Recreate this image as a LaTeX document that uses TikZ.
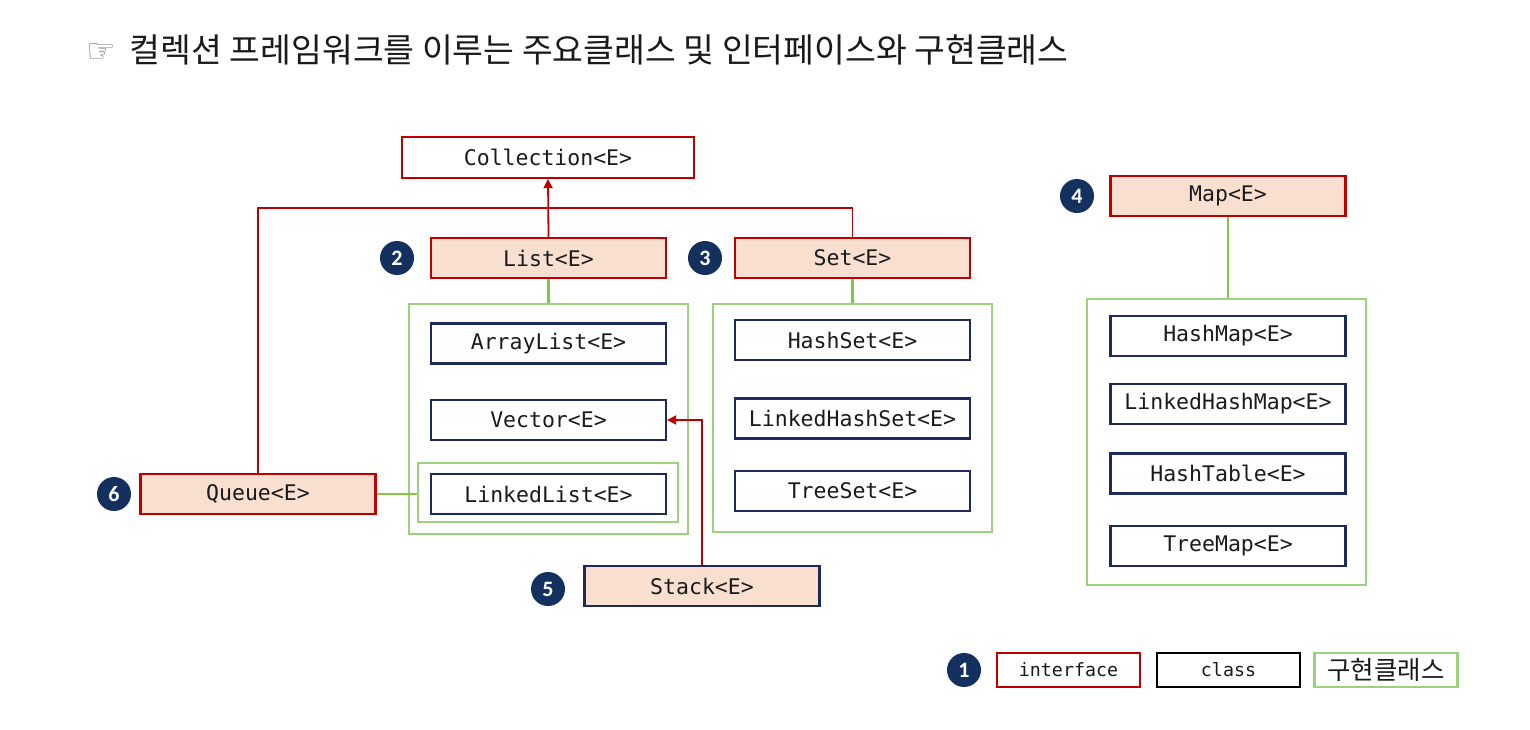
\documentclass[tikz,border=0pt]{standalone}
\usepackage{fontspec}
\setmonofont{DejaVu Sans Mono}
\newfontfamily\krfont{Noto Sans CJK KR}
\newfontfamily\dvfont{DejaVu Sans}
\newfontfamily\badgefont{Carlito}
\usetikzlibrary{arrows.meta}
\definecolor{rd}{HTML}{C00000}
\definecolor{nv}{HTML}{1F2A5C}
\definecolor{gr}{HTML}{9CD27C}
\definecolor{grl}{HTML}{86C540}
\definecolor{pe}{HTML}{F9DFD0}
\definecolor{bdg}{HTML}{14305E}
\definecolor{txt}{HTML}{1A1A1A}
\tikzset{
  box/.style={draw, line width=2.2pt, minimum width=235pt, minimum height=40pt, inner sep=0pt,
    font=\fontsize{21.5}{24}\selectfont\ttfamily, text=txt},
  iface/.style={box, draw=rd, fill=pe},
  cls/.style={box, draw=nv, fill=white},
  grp/.style={draw=gr, line width=2.2pt, inner sep=0pt},
  badge/.style={circle, fill=bdg, text=white, minimum size=34pt, inner sep=0pt,
    font=\fontsize{22}{22}\selectfont\badgefont\bfseries},
  rl/.style={draw=rd, line width=1.8pt},
  gl/.style={draw=grl, line width=2.2pt},
  tip/.style={-{Triangle[length=9pt,width=9pt]}},
  legbox/.style={draw, line width=2.2pt, minimum width=143pt, minimum height=34pt, inner sep=0pt, fill=white, text=txt}
}
\begin{document}
\begin{tikzpicture}[x=1pt,y=-1pt]
\fill[white] (0,0) rectangle (1530,729);
\useasboundingbox (0,0) rectangle (1530,729);

% title
\node[anchor=west, inner sep=0pt, text=txt] (title) at (86,50)
  {{\dvfont\fontsize{33}{36}\selectfont\color{gray}☞}\hspace{14pt}{\krfont\fontsize{33.5}{38}\selectfont 컬렉션 프레임워크를 이루는 주요클래스 및 인터페이스와 구현클래스}};

% group boxes
\node[grp, minimum width=279pt, minimum height=230pt] (lg) at (548.5,419) {};
\node[grp, minimum width=279pt, minimum height=228pt] (sg) at (852.5,418) {};
\node[grp, minimum width=279pt, minimum height=286pt] (mg) at (1226.5,442) {};
\node[grp, minimum width=260pt, minimum height=59pt] (llg) at (548,492.5) {};

% interfaces
\node[box, draw=rd, fill=white, minimum width=292pt, minimum height=41pt] (coll) at (548,157.5) {Collection<E>};
\node[iface] (lst) at (548.5,258) {List<E>};
\node[iface] (set) at (852.5,258) {Set<E>};
\node[iface] (map) at (1228,196) {Map<E>};
\node[iface] (que) at (258,494) {Queue<E>};
\node[box, draw=nv, fill=pe] (stk) at (702,586) {Stack<E>};

% classes
\node[cls] (al) at (548.5,343.5) {ArrayList<E>};
\node[cls] (vec) at (548.5,420) {Vector<E>};
\node[cls] (ll) at (548.5,494) {LinkedList<E>};
\node[cls] (hs) at (852.5,340) {HashSet<E>};
\node[cls] (lhs) at (852.5,418.5) {LinkedHashSet<E>};
\node[cls] (ts) at (852.5,491) {TreeSet<E>};
\node[cls] (hm) at (1228,336) {HashMap<E>};
\node[cls] (lhm) at (1228,404) {LinkedHashMap<E>};
\node[cls] (ht) at (1228,473.5) {HashTable<E>};
\node[cls] (tm) at (1228,546) {TreeMap<E>};

% connectors
\coordinate (j) at (548,208);
\draw[rl, tip] (lst.north) -- (coll.south);
\draw[rl] (que.north) |- (j) -| (set.north);
\draw[rl, tip] (stk.north) |- (vec.east);
\draw[gl] (lst.south) -- (lg.north);
\draw[gl] (set.south) -- (sg.north);
\draw[gl] (map.south) -- (map.south |- mg.north);
\draw[gl] (que.east) -- (que.east -| llg.west);

% badges
\node[badge] (b2) at (397,258) {2};
\node[badge] (b3) at (705,258) {3};
\node[badge] (b4) at (1077,196) {4};
\node[badge] (b6) at (114,494) {6};
\node[badge] (b5) at (548,589) {5};
\node[badge] (b1) at (964,670) {1};

% legend
\node[legbox, draw=rd, font=\fontsize{18.3}{20}\selectfont\ttfamily] (li) at (1068.5,670) {interface};
\node[legbox, draw=black, font=\fontsize{18.3}{20}\selectfont\ttfamily] (lc) at (1228.5,670) {class};
\node[legbox, draw=gr, font=\fontsize{25.5}{28}\selectfont\krfont] (lk) at (1386,670) {구현클래스};
\end{tikzpicture}
\end{document}
